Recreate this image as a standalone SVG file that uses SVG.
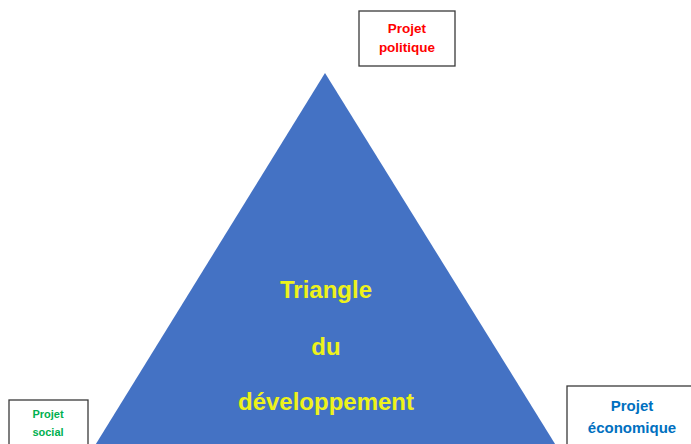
<svg xmlns="http://www.w3.org/2000/svg" width="691" height="444" viewBox="0 0 691 444">
  <style>
    .box { fill: #ffffff; stroke: #3a3a3a; stroke-width: 1.3; }
    .lbl { font-family: "Liberation Sans", Arial, sans-serif; font-weight: bold; text-anchor: middle; }
    .tri-text { font-family: "Liberation Sans", Arial, sans-serif; font-weight: bold; text-anchor: middle; fill: #eef21a; font-size: 24px; }
  </style>
  <rect width="691" height="444" fill="#ffffff"/>

  <!-- Main triangle -->
  <g id="triangle">
    <polygon points="325,73 86,460 565,460" fill="#4472c4"/>
    <text class="tri-text" x="326" y="298">Triangle</text>
    <text class="tri-text" x="326" y="355">du</text>
    <text class="tri-text" x="326" y="410">développement</text>
  </g>

  <!-- Corner labels -->
  <g id="politique">
    <rect class="box" x="359" y="11" width="96" height="55"/>
    <text class="lbl" x="407" y="33" font-size="13.5" fill="#ff0000">Projet</text>
    <text class="lbl" x="407" y="52" font-size="13.5" fill="#ff0000">politique</text>
  </g>

  <g id="social">
    <rect class="box" x="9" y="400" width="79" height="60"/>
    <text class="lbl" x="48" y="418" font-size="11" fill="#00b050">Projet</text>
    <text class="lbl" x="48" y="436" font-size="11" fill="#00b050">social</text>
  </g>

  <g id="economique">
    <rect class="box" x="567" y="386" width="140" height="70"/>
    <text class="lbl" x="632" y="411" font-size="15" fill="#0070c0">Projet</text>
    <text class="lbl" x="632" y="433" font-size="15" fill="#0070c0">économique</text>
  </g>

  <g id="connectors"></g>
</svg>
